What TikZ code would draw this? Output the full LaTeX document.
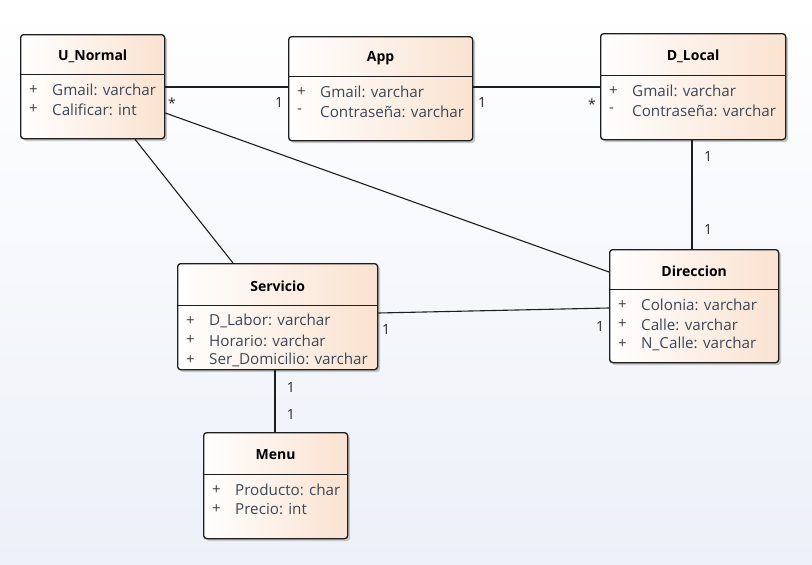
\documentclass[tikz,border=0pt]{standalone}
\usepackage{fontspec}
\setmainfont{Open Sans}
\usetikzlibrary{calc}
\definecolor{peach}{RGB}{250,226,208}
\definecolor{attrcol}{RGB}{60,72,88}
\definecolor{bgbot}{RGB}{236,240,248}
\definecolor{linecol}{RGB}{30,30,30}
\tikzset{
  umlbox/.style={draw=linecol, line width=1.3pt, rounded corners=3pt, left color=white, right color=peach, shading angle=90, inner sep=0pt, anchor=north west},
  shadowbox/.style={fill=black!22, rounded corners=3pt, draw=none},
  titletxt/.style={font=\fontsize{14}{16}\selectfont\bfseries, text=black},
  attrtxt/.style={font=\fontsize{15.2}{17}\selectfont, text=attrcol, anchor=west, inner sep=0pt},
  signtxt/.style={font=\fontsize{15}{17}\selectfont, text=black!75, anchor=west, inner sep=0pt},
  conn/.style={draw=linecol, line width=1.1pt},
  mult/.style={font=\fontsize{14}{16}\selectfont, text=black!85, inner sep=0pt}
}
% name, x, y, w, h, divider offset
\newcommand\umlcls[7]{%
  \fill[shadowbox] (#2+3,#3+3) rectangle ++(#4,#5);
  \node[umlbox, minimum width=#4pt, minimum height=#5pt] (#1) at (#2,#3) {};
  \draw[linecol, line width=1pt] ($(#1.north west)+(0,#6)$) -- ($(#1.north east)+(0,#6)$);
  \node[titletxt] (#1t) at ($(#1.north)+(0,#6/2+2)$) {#7};
}
\newcommand\umlattr[5]{% box, divider offset, row index, sign, text
  \node[signtxt] (#1s#3) at ($(#1.north west)+(9,#2+16+19.5*#3)$) {#4};
  \node[attrtxt] (#1a#3) at ($(#1.north west)+(32,#2+16+19.5*#3)$) {#5};
}
\begin{document}
\begin{tikzpicture}[x=1pt,y=-1pt]
\shade[top color=white, bottom color=bgbot] (0,0) rectangle (812,565);
\useasboundingbox (0,0) rectangle (812,565);

\umlcls{un}{20}{34}{144}{104}{40}{U\_Normal}
\umlattr{un}{40}{0}{+}{Gmail: varchar}
\umlattr{un}{40}{1}{+}{Calificar: int}

\umlcls{app}{288}{36}{184}{104}{40}{App}
\umlattr{app}{40}{0}{+}{Gmail: varchar}
\umlattr{app}{40}{1}{-}{Contraseña: varchar}

\umlcls{dl}{600}{33}{185}{106}{42}{D\_Local}
\umlattr{dl}{42}{0}{+}{Gmail: varchar}
\umlattr{dl}{42}{1}{-}{Contraseña: varchar}

\umlcls{dir}{609}{249}{169}{113}{40}{Direccion}
\umlattr{dir}{40}{0}{+}{Colonia: varchar}
\umlattr{dir}{40}{1}{+}{Calle: varchar}
\umlattr{dir}{40}{2}{+}{N\_Calle: varchar}

\umlcls{ser}{177}{263}{200}{106}{42}{Servicio}
\umlattr{ser}{42}{0}{+}{D\_Labor: varchar}
\umlattr{ser}{42}{1}{+}{Horario: varchar}
\umlattr{ser}{42}{2}{+}{Ser\_Domicilio: varchar}

\umlcls{menu}{203}{432}{144}{106}{42}{Menu}
\umlattr{menu}{42}{0}{+}{Producto: char}
\umlattr{menu}{42}{1}{+}{Precio: int}

% connectors
\draw[conn] ($(un.north east)+(0,53)$) -- ($(app.north west)+(0,51)$);
\draw[conn] ($(app.north east)+(0,51)$) -- ($(dl.north west)+(0,54)$);
\draw[conn] ($(dl.south west)+(92,0)$) -- ($(dir.north west)+(83,0)$);
\draw[conn] ($(un.north east)+(0,79)$) -- ($(dir.north west)+(0,23)$);
\draw[conn] ($(un.south west)+(115,0)$) -- ($(ser.north west)+(56,0)$);
\draw[conn] ($(ser.north east)+(0,50)$) -- ($(dir.north west)+(0,59)$);
\draw[conn] ($(ser.south west)+(98,0)$) -- ($(menu.north west)+(72,0)$);

% multiplicities
\node[mult] (m1) at (172,103) {*};
\node[mult] (m2) at (279,103) {1};
\node[mult] (m3) at (482,103) {1};
\node[mult] (m4) at (592,104) {*};
\node[mult] (m5) at (708,157) {1};
\node[mult] (m6) at (708,230) {1};
\node[mult] (m7) at (386,329) {1};
\node[mult] (m8) at (600,326) {1};
\node[mult] (m9) at (291,387) {1};
\node[mult] (m10) at (291,414) {1};
\end{tikzpicture}
\end{document}
